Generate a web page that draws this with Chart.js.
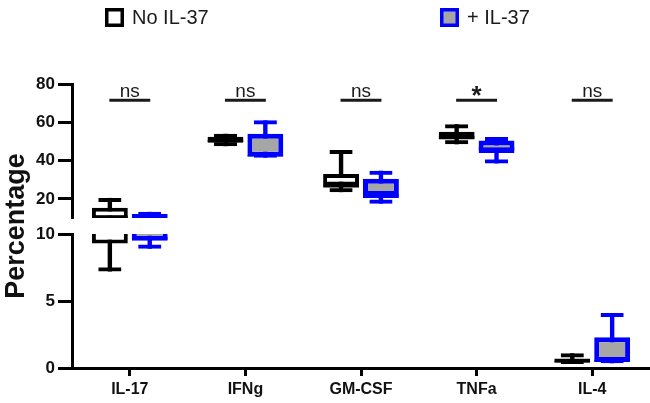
<!DOCTYPE html>
<html><head><meta charset="utf-8">
<script src="https://cdn.jsdelivr.net/npm/chart.js@4/dist/chart.umd.min.js"></script>
<style>html,body{margin:0;padding:0;background:#fff}#wrap{width:650px;height:403px}</style>
</head><body><div id="wrap"><canvas id="c" width="650" height="403"></canvas></div>
<script>
// ---------- data ----------
const CATEGORIES = ['IL-17', 'IFNg', 'GM-CSF', 'TNFa', 'IL-4'];
const SERIES_NAMES = ['No IL-37', '+ IL-37'];
const NO_MIN = [7.2, 47.5, 23.5, 48.5, 0.3];
const NO_Q1  = [9.3, 49.5, 27.0, 51.0, 0.4];
const NO_MED = [11.5, 51.0, 27.5, 53.0, 0.55];
const NO_Q3  = [15.3, 52.5, 33.0, 55.0, 0.7];
const NO_MAX = [20.5, 54.0, 45.5, 59.0, 1.1];
const PLUS_MIN = [8.9, 41.5, 17.5, 38.5, 0.35];
const PLUS_Q1  = [9.5, 42.0, 21.5, 44.0, 0.45];
const PLUS_MED = [9.8, 43.0, 22.0, 47.0, 0.6];
const PLUS_Q3  = [12.1, 54.0, 30.5, 50.5, 2.3];
const PLUS_MAX = [13.2, 61.0, 34.7, 52.3, 4.1];
const SIGNIFICANCE = ['ns', 'ns', 'ns', '*', 'ns'];
const UPPER_TICKS = [20, 40, 60, 80];
const LOWER_TICKS = [0, 5, 10];

// ---------- styling ----------
const FONT = "'Liberation Sans', Arial, sans-serif";
Chart.defaults.font.family = FONT;
const SERIES = [
  {name: SERIES_NAMES[0], stack: 'no', color: '#000000', fill: '#ffffff', line: 4, min: NO_MIN, q1: NO_Q1, med: NO_MED, q3: NO_Q3, max: NO_MAX},
  {name: SERIES_NAMES[1], stack: 'plus', color: '#0000ff', fill: '#a6a6a6', line: 5, min: PLUS_MIN, q1: PLUS_Q1, med: PLUS_MED, q3: PLUS_Q3, max: PLUS_MAX}
];

function datasetsFor(axis) {
  const out = [];
  SERIES.forEach(s => {
    const common = {type: 'bar', yAxisID: axis, stack: s.stack, clip: 0, borderSkipped: false,
      categoryPercentage: 0.69, inflateAmount: 0};
    out.push({...common, label: s.name + ' whiskers', data: s.min.map((v, i) => [v, s.max[i]]),
      backgroundColor: s.color, borderWidth: 0, barPercentage: 0.11, order: 4});
    out.push({...common, label: s.name, data: s.q1.map((v, i) => [v, s.q3[i]]),
      backgroundColor: s.fill, borderColor: s.color, borderWidth: s.line, barPercentage: 0.9, order: 3});
    out.push({...common, label: s.name + ' median', data: s.min.map((v, i) => [v, s.med[i]]),
      backgroundColor: 'rgba(0,0,0,0)', borderColor: s.color,
      borderWidth: {top: 3, right: 0, bottom: 0, left: 0}, barPercentage: 0.9, order: 2});
    out.push({...common, label: s.name + ' caps', data: s.min.map((v, i) => [v, s.max[i]]),
      backgroundColor: 'rgba(0,0,0,0)', borderColor: s.color,
      borderWidth: {top: 4, right: 0, bottom: 4, left: 0}, barPercentage: 0.58, order: 1});
  });
  return out;
}

const headerLegend = {
  id: 'headerLegend',
  afterDraw(chart, args, opts) {
    const ctx = chart.ctx;
    ctx.save();
    SERIES.forEach((s, i) => {
      const bx = opts.x[i], by = opts.y, sz = opts.box;
      ctx.fillStyle = s.fill;
      ctx.fillRect(bx, by, sz, sz);
      ctx.lineWidth = 3.5;
      ctx.strokeStyle = s.color;
      ctx.strokeRect(bx + 1.75, by + 1.75, sz - 3.5, sz - 3.5);
      ctx.fillStyle = '#1a1a1a';
      ctx.font = '20px ' + FONT;
      ctx.textBaseline = 'middle';
      ctx.textAlign = 'left';
      ctx.fillText(s.name, bx + sz + 8, by + sz / 2 + 1);
    });
    ctx.restore();
  }
};

const significance = {
  id: 'significance',
  afterDatasetsDraw(chart, args, opts) {
    const ctx = chart.ctx, x = chart.scales.x, y = chart.scales.yTop;
    const yLine = y.getPixelForValue(opts.level);
    const half = x.width / CATEGORIES.length * opts.halfSpan;
    ctx.save();
    SIGNIFICANCE.forEach((s, i) => {
      const cx = x.getPixelForValue(i);
      ctx.strokeStyle = '#1a1a1a';
      ctx.lineWidth = 3;
      ctx.beginPath();
      ctx.moveTo(cx - half, yLine);
      ctx.lineTo(cx + half, yLine);
      ctx.stroke();
      ctx.fillStyle = '#1a1a1a';
      ctx.textAlign = 'center';
      ctx.textBaseline = 'alphabetic';
      if (s === '*') {
        ctx.font = 'bold 26px ' + FONT;
        ctx.fillText(s, cx, yLine + 4);
      } else {
        ctx.font = '19px ' + FONT;
        ctx.fillText(s, cx, yLine - 3);
      }
    });
    ctx.restore();
  }
};

const tickFont = {family: FONT, size: 17, weight: 'bold'};
const yCommon = {
  type: 'linear', position: 'left', stack: 'pct', stacked: false,
  grid: {drawOnChartArea: false, drawTicks: true, tickLength: 14, tickWidth: 3, tickColor: '#000'},
  border: {display: true, color: '#000', width: 3},
  ticks: {color: '#111', font: tickFont, padding: 3},
  afterFit: s => { s.width = 72; }
};

new Chart(document.getElementById('c'), {
  type: 'bar',
  data: {labels: CATEGORIES, datasets: [...datasetsFor('yTop'), ...datasetsFor('yBottom')]},
  options: {
    responsive: false, animation: false, devicePixelRatio: 1,
    layout: {padding: {top: 84, right: 0, bottom: 0, left: 0}},
    plugins: {
      legend: {display: false}, tooltip: {enabled: false},
      headerLegend: {x: [105, 440], y: 8, box: 19},
      significance: {level: 71.5, halfSpan: 0.177}
    },
    scales: {
      x: {
        type: 'category', offset: true,
        grid: {display: true, drawOnChartArea: false, offset: false, tickLength: 8, tickWidth: 3, tickColor: '#000'},
        border: {display: true, color: '#000', width: 3},
        ticks: {color: '#111', font: {family: FONT, size: 16, weight: 'bold'}, padding: 4, maxRotation: 0, autoSkip: false},
        afterFit: s => { s.height = 35; }
      },
      yTop: {...yCommon, stackWeight: 134, weight: 3, min: 10, max: 80,
        afterBuildTicks: s => { s.ticks = UPPER_TICKS.map(v => ({value: v})); }},
      yGap: {type: 'linear', position: 'left', stack: 'pct', stackWeight: 16, weight: 2, min: 0, max: 1,
        grid: {display: false}, border: {display: false}, ticks: {display: false},
        title: {display: true, text: 'Percentage', color: '#111', font: {family: FONT, size: 27, weight: 'bold'}, padding: 0},
        afterFit: s => { s.width = 72; }},
      yBottom: {...yCommon, stackWeight: 134, weight: 1, min: 0, max: 10,
        afterBuildTicks: s => { s.ticks = LOWER_TICKS.map(v => ({value: v})); }}
    }
  },
  plugins: [headerLegend, significance]
});
</script>
</body></html>
